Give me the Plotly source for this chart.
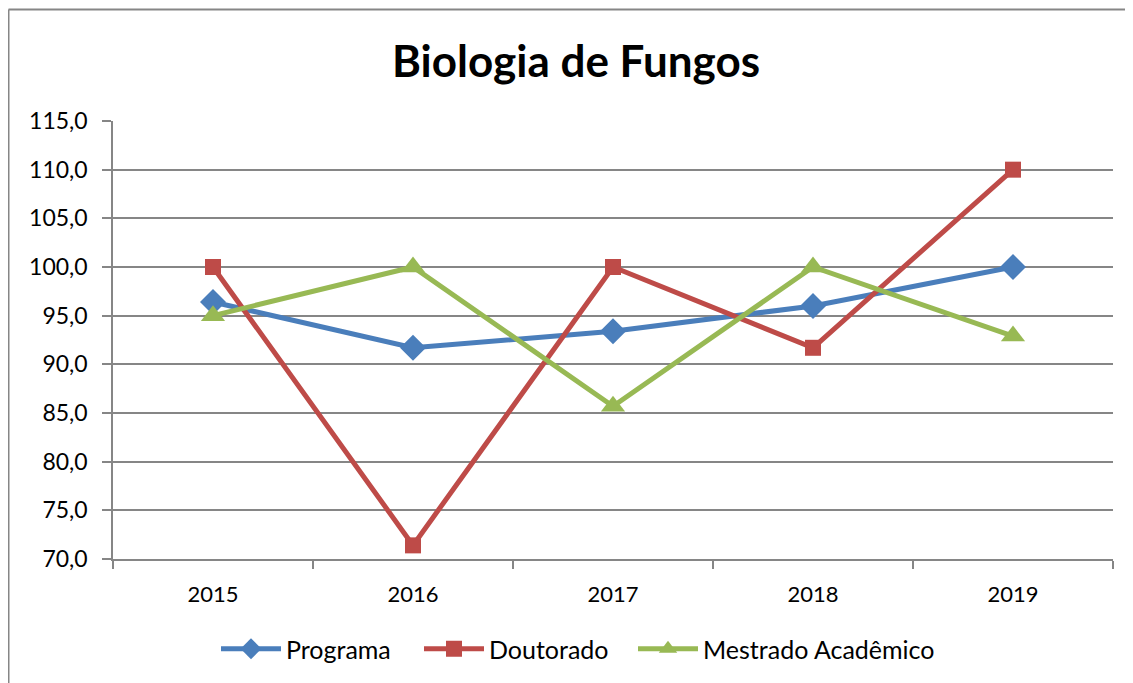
import plotly.graph_objects as go

years = ["2015", "2016", "2017", "2018", "2019"]
programa = [96.4, 91.7, 93.4, 96.0, 100.0]
doutorado = [100.0, 71.4, 100.0, 91.7, 110.0]
mestrado = [95.0, 100.0, 85.7, 100.0, 92.9]
y_ticks = [70, 75, 80, 85, 90, 95, 100, 105, 110, 115]

FONT = "Lato"
OFF = 8  # page body margin
W, H = 1133, 683
L, T = 113 - OFF, 121 - OFF
R = W - (1113 - OFF)
B = H - (559 - OFF)
PW, PH = W - L - R, H - T - B


def px(x):
    return (x - OFF - L) / PW


def py(y):
    return (H - B - (y - OFF)) / PH


fig = go.Figure()
series = [
    ("Programa", programa, "#4A7EBB", "diamond", 20, "legend", 216),
    ("Doutorado", doutorado, "#BE4B48", "square", 16, "legend2", 419),
    ("Mestrado Acadêmico", mestrado, "#98B954", "triangle-up", 21, "legend3", 633),
]
legends = {}
for name, vals, col, sym, sz, lg, lx in series:
    fig.add_trace(go.Scatter(
        x=years, y=vals, name=name, mode="lines+markers",
        line=dict(color=col, width=5),
        marker=dict(symbol=sym, size=sz, color=col, line=dict(width=0)),
        legend=lg,
    ))
    legends[lg] = dict(orientation="h", x=px(lx), xanchor="left", y=py(649), yanchor="middle",
                       font=dict(family=FONT, size=25), itemwidth=60,
                       bgcolor="rgba(0,0,0,0)")

# outer chart border (left and top visible)
fig.add_shape(type="line", xref="paper", yref="paper",
              x0=px(8.5), x1=px(8.5), y0=py(700), y1=py(9.5),
              line=dict(color="#868686", width=2))
fig.add_shape(type="line", xref="paper", yref="paper",
              x0=px(8.5), x1=px(1150), y0=py(9.5), y1=py(9.5),
              line=dict(color="#868686", width=2))

fig.update_layout(
    width=W, height=H,
    margin=dict(l=L, r=R, t=T, b=B),
    paper_bgcolor="white", plot_bgcolor="white",
    separators=",.",
    font=dict(family=FONT, size=22, color="black"),
    title=dict(text="<b>Biologia de Fungos</b>", x=(576 - OFF) / W, xanchor="center",
               y=1 - (62 - OFF) / H, yanchor="middle", xref="container", yref="container",
               font=dict(family=FONT, size=44, color="black")),
    showlegend=True,
    xaxis=dict(type="category", range=[-0.5, 4.5], showgrid=False,
               showline=True, linecolor="#868686", linewidth=1.5,
               ticks="outside", tickson="boundaries", ticklen=8, tickcolor="#868686",
               tickwidth=1.5, tickfont=dict(family=FONT, size=22), ticklabelstandoff=15,
               zeroline=False),
    yaxis=dict(range=[70, 115], tickvals=y_ticks, tickformat=".1f",
               showgrid=True, gridcolor="#868686", gridwidth=1.5,
               showline=True, linecolor="#868686", linewidth=1.5,
               ticks="outside", ticklen=9, tickcolor="#868686", tickwidth=1.5,
               tickfont=dict(family=FONT, size=23), ticklabelstandoff=10,
               zeroline=False),
    **legends,
)

fig.write_html("out.html")
